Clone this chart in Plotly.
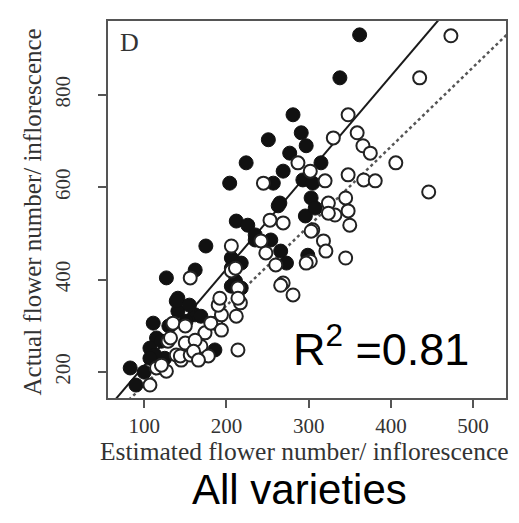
import numpy as np
import plotly.graph_objects as go

# Filled circles (estimated, actual)
filled_x = [362, 338, 281, 291, 297, 277, 315, 251, 224, 204, 257, 269, 293, 305, 303, 296, 308, 265,
            212, 226, 175, 127, 162, 206, 218, 206, 218, 186, 111, 141, 141, 162, 169, 115, 107, 125,
            83, 90, 113, 121, 235, 254, 266, 273, 299, 139, 151, 107, 263, 235, 206, 211, 130, 155, 100]
filled_y = [930, 837, 757, 718, 690, 674, 653, 703, 653, 609, 609, 635, 616, 609, 577, 538, 555, 566,
            527, 518, 473, 404, 421, 447, 436, 386, 382, 248, 306, 360, 332, 324, 321, 274, 252, 230,
            209, 172, 237, 267, 486, 486, 462, 436, 453, 354, 310, 230, 560, 497, 425, 397, 300, 345, 200]

# Open circles (estimated, actual)
open_x = [473, 435, 348, 359, 366, 375, 406, 446, 330, 348, 367, 381, 345, 348, 350, 332, 320, 287,
          302, 324, 305, 245, 253, 269, 156, 206, 206, 217, 212, 214, 168, 135, 150, 139, 145, 174,
          187, 194, 190, 107, 115, 127, 129, 242, 248, 260, 269, 281, 324, 303, 318, 321, 345, 302,
          211, 181, 194, 169, 150, 132, 144, 156, 121, 162, 160, 178, 166, 214, 266, 192, 214, 297]
open_y = [928, 837, 757, 718, 690, 674, 653, 590, 707, 627, 616, 614, 577, 549, 518, 540, 614, 653,
          635, 566, 508, 609, 529, 523, 404, 473, 419, 350, 321, 248, 248, 306, 300, 237, 226, 285,
          306, 324, 345, 172, 209, 202, 267, 484, 458, 432, 393, 367, 544, 505, 484, 462, 447, 440,
          425, 306, 291, 256, 263, 274, 235, 237, 215, 269, 245, 235, 226, 382, 388, 360, 360, 436]

# Fitted lines: (slope, intercept)
solid_fit = [2.09, 5.0]
dotted_fit = [1.72, 0.0]

x_tick_vals = [100, 200, 300, 400, 500]
y_tick_vals = [200, 400, 600, 800]

line_x = np.array([50.0, 560.0])

fig = go.Figure()
fig.add_trace(go.Scatter(x=line_x, y=dotted_fit[0] * line_x + dotted_fit[1], mode="lines",
                         line=dict(color="#555555", width=2.5, dash="dot"), hoverinfo="skip"))
fig.add_trace(go.Scatter(x=line_x, y=solid_fit[0] * line_x + solid_fit[1], mode="lines",
                         line=dict(color="#1a1a1a", width=2), hoverinfo="skip"))
fig.add_trace(go.Scatter(x=filled_x, y=filled_y, mode="markers",
                         marker=dict(size=14, color="#111111", line=dict(color="#111111", width=1))))
fig.add_trace(go.Scatter(x=open_x, y=open_y, mode="markers",
                         marker=dict(size=13, color="white", line=dict(color="#222222", width=2))))

axis_common = dict(showline=True, linecolor="#555555", linewidth=2, mirror=True,
                   ticks="outside", ticklen=8, tickwidth=1.5, tickcolor="#555555",
                   showgrid=False, zeroline=False,
                   tickfont=dict(family="Liberation Serif", size=21, color="#333333"))

fig.update_xaxes(range=[56, 540], tickvals=x_tick_vals, **axis_common)
fig.update_yaxes(range=[144, 960], tickvals=y_tick_vals, tickangle=-90, ticklabelstandoff=20, **axis_common)

annotations = [
    dict(text="Actual flower number/ inflorescence", x=-0.19, y=0.493, xref="paper", yref="paper",
         textangle=-90, showarrow=False, xanchor="center", yanchor="middle",
         font=dict(family="Liberation Serif", size=25, color="#333333")),
    dict(text="Estimated flower number/ inflorescence", x=0.494, y=-0.143, xref="paper", yref="paper",
         showarrow=False, xanchor="center", yanchor="middle",
         font=dict(family="Liberation Serif", size=25.5, color="#333333")),
    dict(text="All varieties", x=0.48, y=-0.244, xref="paper", yref="paper",
         showarrow=False, xanchor="center", yanchor="middle",
         font=dict(family="Liberation Sans", size=42, color="#000000")),
    dict(text="R<sup>2</sup> =0.81", x=0.46, y=0.138, xref="paper", yref="paper",
         showarrow=False, xanchor="left", yanchor="middle",
         font=dict(family="Liberation Sans", size=45, color="#000000")),
    dict(text="D", x=0.025, y=0.944, xref="paper", yref="paper",
         showarrow=False, xanchor="left", yanchor="middle",
         font=dict(family="Liberation Serif", size=26, color="#333333")),
]

fig.update_layout(width=519, height=523, margin=dict(l=100, r=21, t=13, b=133),
                  paper_bgcolor="white", plot_bgcolor="white", showlegend=False,
                  annotations=annotations)

fig.write_html("out.html")
